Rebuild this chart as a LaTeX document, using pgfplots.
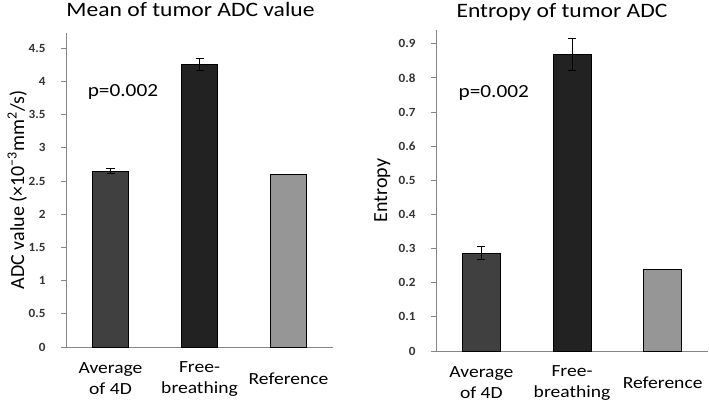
\documentclass[border=0pt]{standalone}
\usepackage{fontspec}
\setmainfont{Carlito}
\newfontfamily\wfont{Carlito}[FakeStretch=1.15]
\newfontfamily\tickf{Carlito Bold}[FakeStretch=1.05]
\usepackage{pgfplots}
\pgfplotsset{compat=1.18}
\definecolor{c4d}{HTML}{404040}
\definecolor{cfb}{HTML}{222222}
\definecolor{cref}{HTML}{969696}
\definecolor{axgray}{HTML}{868686}
\definecolor{ticktext}{HTML}{333333}
\pgfplotsset{
  mystyle/.style={
    scale only axis, axis lines*=left,
    axis line style={axgray, line width=1pt},
    xmin=-0.5, xmax=2.5, ymin=0, xtick={0,1,2},
    xtick style={draw=none}, ytick style={axgray, line width=0.8pt},
    tick align=outside, major tick length=5pt,
    /pgf/number format/assume math mode=true,
    yticklabel={\tickf\fontsize{12.5}{15}\selectfont\pgfmathprintnumber{\tick}},
    yticklabel style={text=ticktext, xshift=-12pt},
    xticklabel style={font=\wfont\fontsize{17}{21}\selectfont, align=center, anchor=center, yshift=-27pt},
    title style={font=\wfont\fontsize{20.5}{24}\selectfont, anchor=base, at={(0.5,1)}},
    ylabel style={font=\fontsize{20}{24}\selectfont, anchor=base},
    clip=false,
  },
  mybar/.style={ybar, bar shift=0pt, draw=black, line width=0.8pt, fill=#1},
  myerr/.style={error bars/.cd, y dir=both, y explicit,
    error bar style={black, line width=0.9pt},
    error mark options={rotate=90, black, mark size=4pt, line width=0.9pt}},
}
\begin{document}
\begin{tikzpicture}
\useasboundingbox (0,0) rectangle (709pt,402pt);
\begin{axis}[mystyle, at={(66pt,55pt)}, anchor=south west,
  width=267pt, height=314pt, ymax=4.73,
  ytick={0,0.5,1,1.5,2,2.5,3,3.5,4,4.5},
  xticklabels={{Average\\of 4D},{Free-\\breathing},{Reference}},
  title={Mean of tumor ADC value},
  title style={yshift=10pt, xshift=-9pt},
  ylabel={ADC value (×10\textsuperscript{−3}mm\textsuperscript{2}/s)},
  ylabel style={at={(axis description cs:-0.157,0.5)}},
]
\addplot[mybar=c4d, bar width=36pt, myerr] coordinates {(0,2.65) +- (0,0.04)};
\addplot[mybar=cfb, bar width=36pt, myerr] coordinates {(1,4.26) +- (0,0.09)};
\addplot[mybar=cref, bar width=36pt] coordinates {(2,2.60)};
\node[anchor=base, font=\wfont\fontsize{18.5}{22}\selectfont] at (axis cs:0.14,3.77) {p=0.002};
\end{axis}
\begin{axis}[mystyle, at={(436pt,51pt)}, anchor=south west,
  width=272pt, height=321pt, ymax=0.94,
  ytick={0,0.1,0.2,0.3,0.4,0.5,0.6,0.7,0.8,0.9},
  xticklabels={{Average\\of 4D},{Free-\\breathing},{Reference}},
  title={Entropy of tumor ADC},
  title style={yshift=7pt, xshift=-10pt},
  ylabel={Entropy},
  ylabel style={at={(axis description cs:-0.18,0.5)}},
]
\addplot[mybar=c4d, bar width=38pt, myerr] coordinates {(0,0.287) +- (0,0.019)};
\addplot[mybar=cfb, bar width=38pt, myerr] coordinates {(1,0.868) +- (0,0.047)};
\addplot[mybar=cref, bar width=38pt] coordinates {(2,0.240)};
\node[anchor=base, font=\wfont\fontsize{18.5}{22}\selectfont] at (axis cs:0.137,0.743) {p=0.002};
\end{axis}
\end{tikzpicture}
\end{document}
